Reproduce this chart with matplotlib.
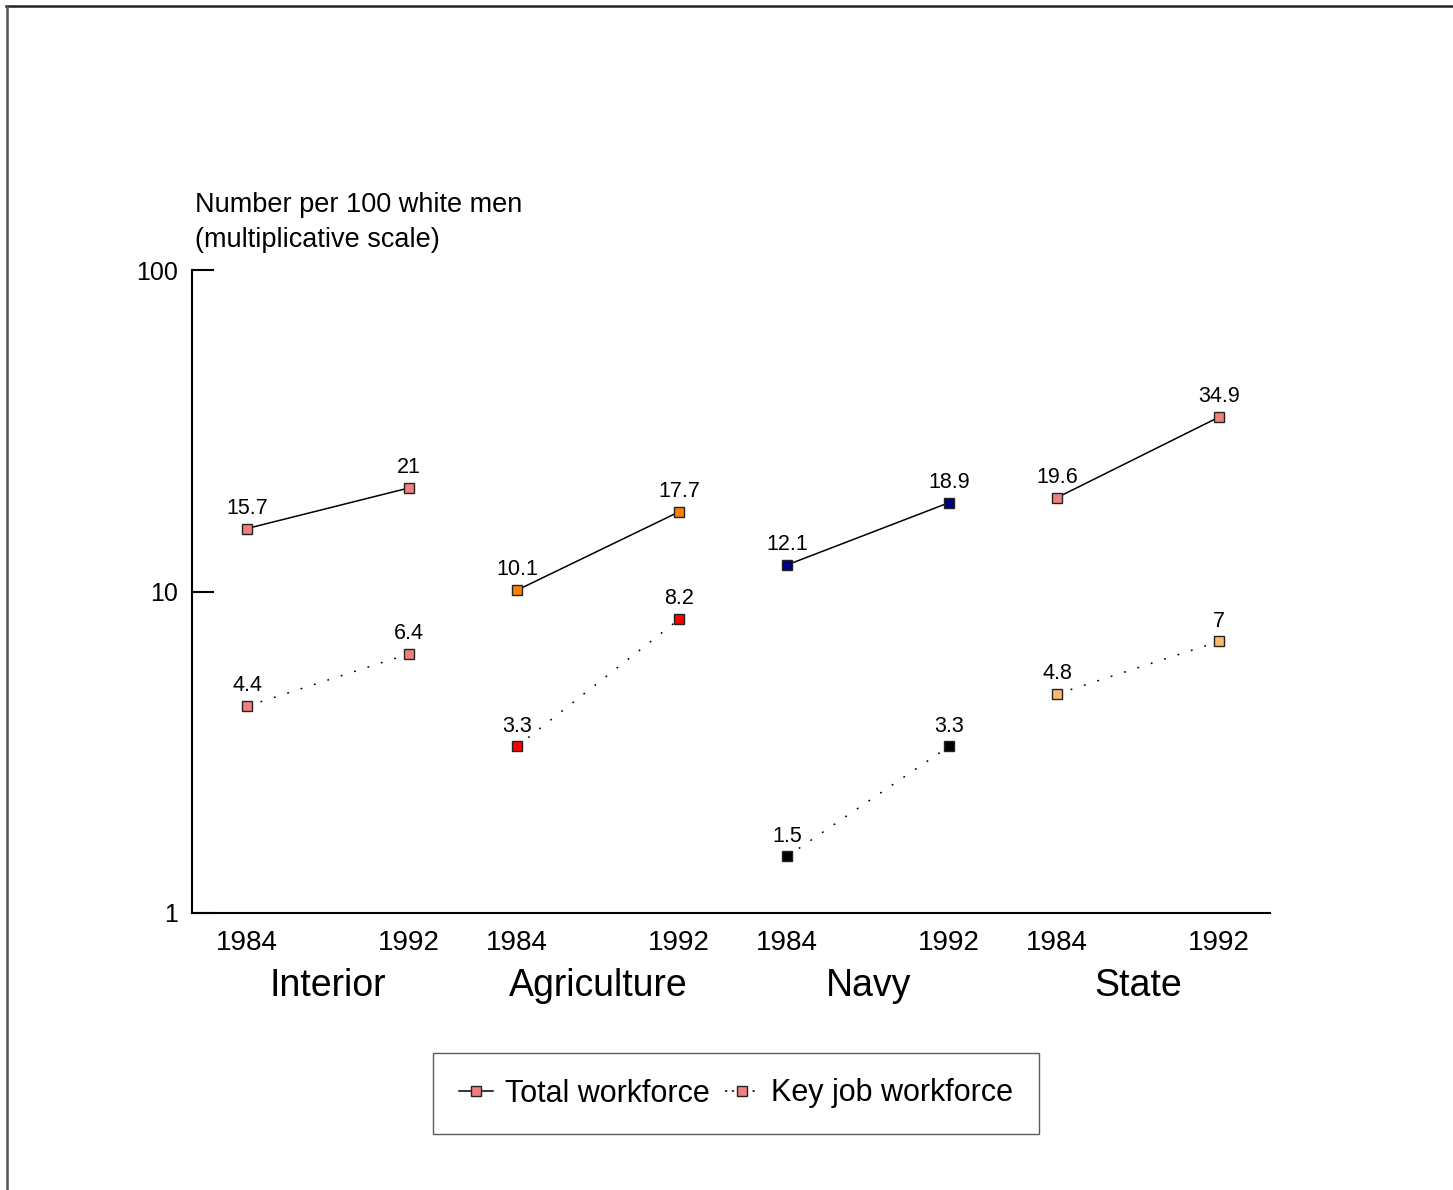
import matplotlib
matplotlib.use('Agg')
import matplotlib.pyplot as plt
from matplotlib.lines import Line2D
from matplotlib.ticker import NullLocator

departments = ['Interior', 'Agriculture', 'Navy', 'State']
years = ['1984', '1992']
total_workforce = [[15.7, 21], [10.1, 17.7], [12.1, 18.9], [19.6, 34.9]]
key_job_workforce = [[4.4, 6.4], [3.3, 8.2], [1.5, 3.3], [4.8, 7]]
total_colors = ['#f08080', '#ff8000', '#000080', '#f08080']
key_colors = ['#f08080', '#ff0000', '#000000', '#ffb870']
y_ticks = [1, 10, 100]

plt.rcParams['font.family'] = ['Liberation Sans', 'DejaVu Sans']

W, H = 1453, 1190
fig = plt.figure(figsize=(W / 100, H / 100), dpi=100)
ax = fig.add_axes([192 / W, 1 - 913 / H, (1270 - 192) / W, (913 - 270) / H])
ax.set_yscale('log')
ax.set_ylim(1, 100)
ax.set_xlim(-1.02, 18.94)

dotted = (0, (1.2, 8))
xpos = []
for g, dept in enumerate(departments):
    xs = [g * 5, g * 5 + 3]
    xpos += xs
    ax.plot(xs, total_workforce[g], color='black', lw=1.1, marker='s', ms=6.5,
            mfc=total_colors[g], mec='#222222', mew=1)
    ax.plot(xs, key_job_workforce[g], color='black', lw=1.1, ls=dotted, marker='s',
            ms=6.5, mfc=key_colors[g], mec='#222222', mew=1)
    # value labels above each point
    for x, v in zip(xs + xs, total_workforce[g] + key_job_workforce[g]):
        ax.annotate(f'{v:g}', (x, v), xytext=(0, 7), textcoords='offset points',
                    ha='center', va='bottom', fontsize=15.5)
    ax.text(g * 5 + 1.5, -0.114, dept, transform=ax.get_xaxis_transform(),
            ha='center', va='center', fontsize=27)

ax.set_xticks(xpos)
ax.set_xticklabels(years * len(departments), fontsize=20)
ax.tick_params(axis='x', length=0, pad=12)
ax.set_yticks(y_ticks)
ax.set_yticklabels([str(t) for t in y_ticks], fontsize=18)
ax.yaxis.set_minor_locator(NullLocator())
ax.tick_params(axis='y', direction='in', length=16, width=1.5, pad=10)
for s in ['top', 'right']:
    ax.spines[s].set_visible(False)
for s in ['left', 'bottom']:
    ax.spines[s].set_linewidth(1.5)

fig.text(195 / W, 1 - 205 / H, 'Number per 100 white men', va='center', fontsize=19.5)
fig.text(195 / W, 1 - 240 / H, '(multiplicative scale)', va='center', fontsize=19.5)

# outer frame
fig.add_artist(Line2D([6 / W, 1], [1 - 5.5 / H] * 2, color='#222222', lw=1.8))
fig.add_artist(Line2D([6.5 / W] * 2, [0, 1 - 5.5 / H], color='#555555', lw=1.8))

handles = [
    Line2D([], [], color='black', lw=1.1, marker='s', ms=6.5, mfc='#f08080', mec='#222222'),
    Line2D([], [], color='black', lw=1.1, ls=(0, (1.5, 3)), marker='s', ms=6.5,
           mfc='#f08080', mec='#222222'),
]
leg = fig.legend(handles, ['Total workforce', 'Key job workforce'], loc='center',
                 bbox_to_anchor=(736 / W, 1 - 1093.5 / H), ncol=2, fontsize=22,
                 frameon=True, fancybox=False, edgecolor='#333333',
                 handlelength=1.1, handletextpad=0.4, columnspacing=0.5, borderpad=0.85)
leg.get_frame().set_linewidth(1.0)

fig.savefig('out.png', dpi=100, facecolor='white')
